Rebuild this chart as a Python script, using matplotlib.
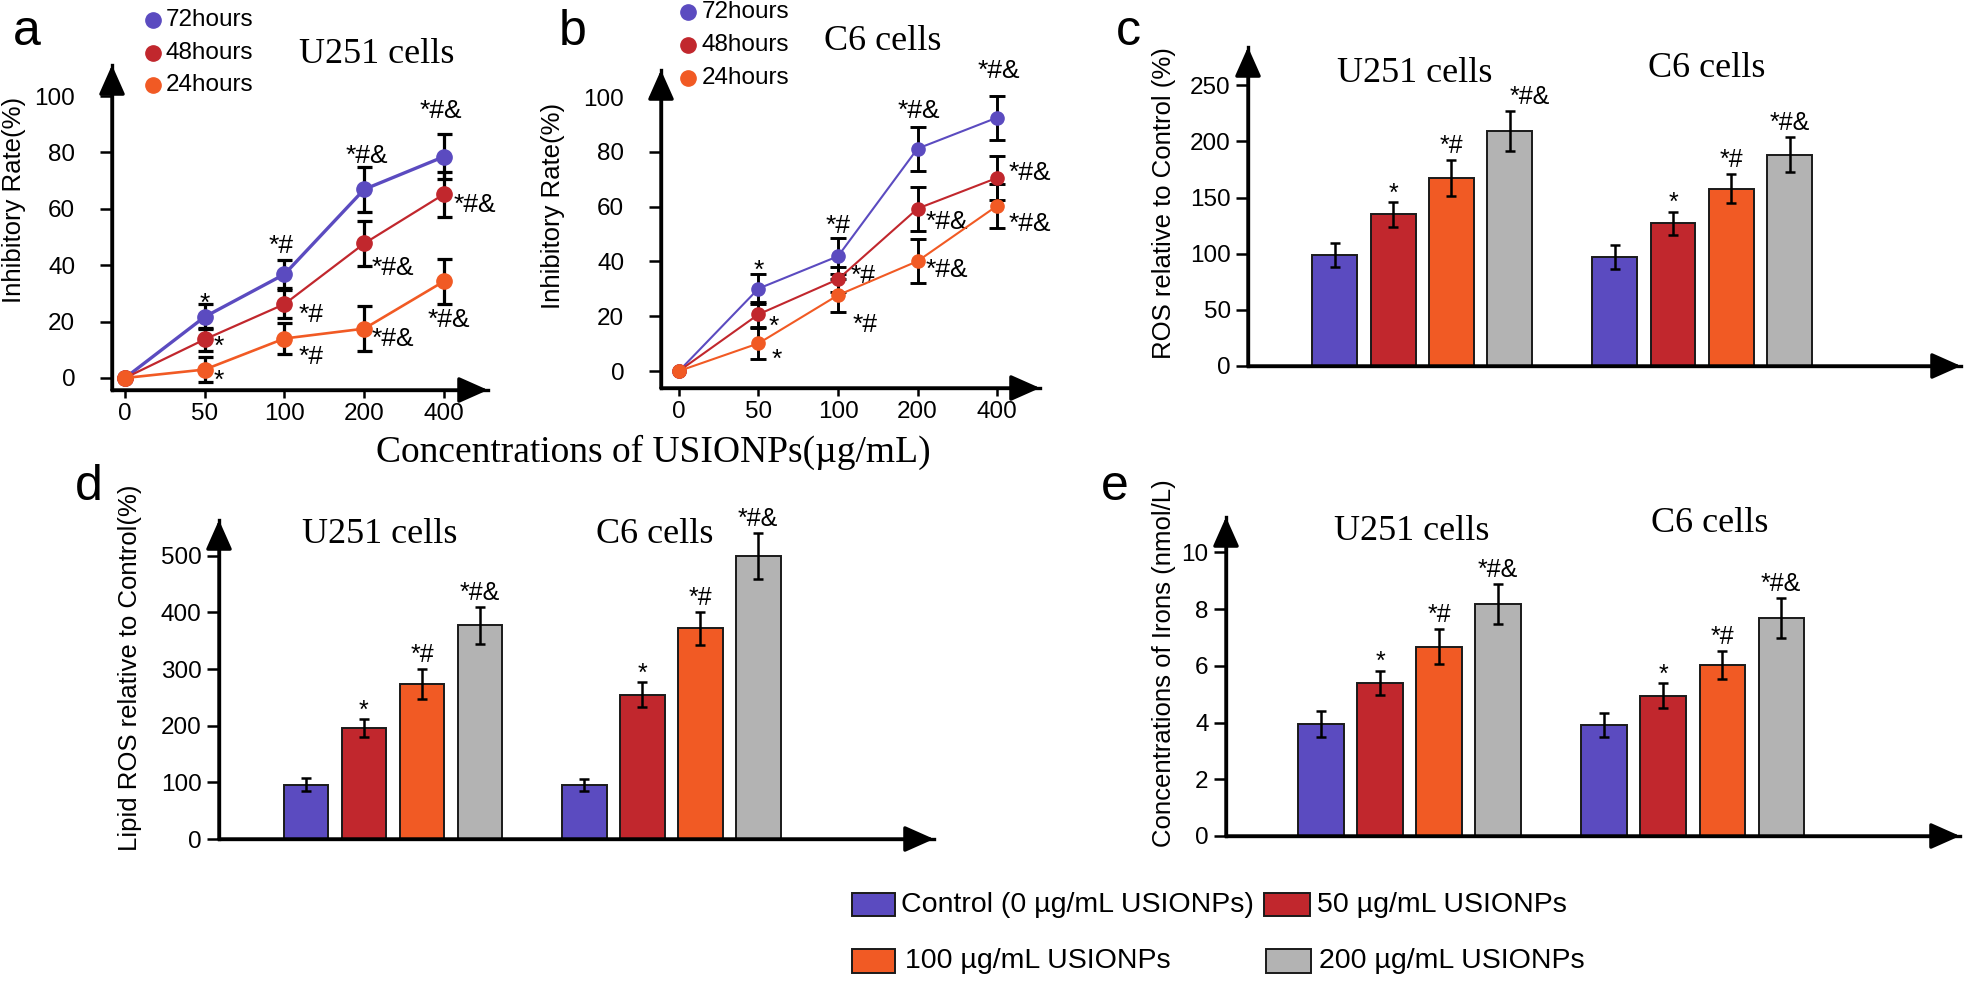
"""
Five-panel USIONPs figure: inhibitory-rate curves (a, b) and bar charts of
ROS (c), lipid ROS (d) and iron concentration (e) in U251 and C6 cells.
Layout is set in pixels so the saved png lines up with the 1966x982 original.
"""

import numpy as np
import matplotlib
matplotlib.use("Agg")
import matplotlib.pyplot as plt
from matplotlib.patches import Rectangle

W, H = 1966, 982
DPI = 100
PT = DPI / 72.0          # pixels per point

SANS = "Liberation Sans"
SERIF = "Liberation Serif"

PURPLE = "#5b4bc0"
RED = "#c1272d"
ORANGE = "#f15a24"
GRAY = "#b3b3b3"

# ---- panels a, b: inhibitory rate (%) vs concentration ----
CONC_LABELS = ["0", "50", "100", "200", "400"]
HOURS = ["72hours", "48hours", "24hours"]
HOUR_COLORS = [PURPLE, RED, ORANGE]

U251_72H = [0, 21.7, 36.8, 66.9, 78.5]
U251_72H_ERR = [0, 4.5, 5.0, 8.0, 8.0]
U251_48H = [0, 13.7, 26.2, 47.7, 65.2]
U251_48H_ERR = [0, 4.0, 5.0, 8.0, 8.0]
U251_24H = [0, 3.0, 14.0, 17.5, 34.3]
U251_24H_ERR = [0, 4.4, 5.6, 8.0, 8.0]

C6_72H = [0, 30.1, 41.9, 81.2, 92.5]
C6_72H_ERR = [0, 5.5, 6.5, 8.0, 8.0]
C6_48H = [0, 20.7, 33.5, 59.3, 70.5]
C6_48H_ERR = [0, 4.6, 4.5, 8.0, 8.0]
C6_24H = [0, 10.1, 27.7, 40.1, 60.3]
C6_24H_ERR = [0, 5.7, 6.0, 8.0, 8.0]

LINE_SIG = ["", "*", "*#", "*#&", "*#&"]

# ---- panels c, d, e: bars ----
DOSES = ["Control (0 \u00b5g/mL USIONPs)", "50 \u00b5g/mL USIONPs",
         "100 \u00b5g/mL USIONPs", "200 \u00b5g/mL USIONPs"]
DOSE_COLORS = [PURPLE, RED, ORANGE, GRAY]
BAR_SIG = ["", "*", "*#", "*#&"]

ROS_U251 = [99, 135, 167, 209]
ROS_U251_ERR = [10.5, 11, 16, 18]
ROS_C6 = [97, 127, 158, 188]
ROS_C6_ERR = [10.5, 10.5, 12.5, 15.5]

LIPID_U251 = [96, 196, 274, 377]
LIPID_U251_ERR = [11, 15.5, 26.5, 32]
LIPID_C6 = [95, 255, 372, 499]
LIPID_C6_ERR = [11, 21.5, 29, 41]

IRON_U251 = [3.95, 5.4, 6.68, 8.18]
IRON_U251_ERR = [0.45, 0.43, 0.61, 0.7]
IRON_C6 = [3.92, 4.95, 6.02, 7.7]
IRON_C6_ERR = [0.43, 0.43, 0.49, 0.7]

# visual-centre offsets (px, +y down) of the significance marks from each point
A_OFFS = [
    [None, (0, -21), (-3, -31), (3, -36), (-3, -48)],
    [None, (14, -1), (27, 8), (29, 22), (31, 8)],
    [None, (14, 3), (27, 16), (29, 8), (5, 36)],
]
B_OFFS = [
    [None, (0, -26), (0, -33), (1, -40), (2, -49)],
    [None, (15, 4), (25, -6), (29, 11), (33, -7)],
    [None, (18, 8), (27, 27), (29, 6), (33, 16)],
]

GROUP_GAP = 4.8
FS_TICK = 17.5
FS_SIG_LINE = 19
FS_SIG_BAR = 18

ARROW = dict(arrowstyle="-|>,head_length=0.9,head_width=0.4", lw=2.4,
             color="black", shrinkA=0, shrinkB=0, mutation_scale=20)


def px_axes(fig, left, top, right, bottom):
    ax = fig.add_axes([left / W, 1 - bottom / H, (right - left) / W, (bottom - top) / H])
    ax.set_facecolor("none")
    return ax


def style_axes(ax, ypad):
    for side in ("top", "right"):
        ax.spines[side].set_visible(False)
    for side in ("left", "bottom"):
        ax.spines[side].set_linewidth(2.4)
    ax.tick_params(axis="y", direction="out", length=8.5, width=1.8,
                   labelsize=FS_TICK, pad=ypad)
    for lab in ax.get_yticklabels():
        lab.set_family(SANS)
    for tip in [(1, 0), (0, 1)]:
        ax.annotate("", xy=tip, xytext=(0, 0), xycoords="axes fraction",
                    arrowprops=ARROW, annotation_clip=False)


def sig_baseline(label, fs):
    # shift from visual centre of the glyphs to their baseline, in px
    return (0.58 if label == "*" else 0.36) * fs * PT


def line_panel(ax, series, offsets, xlim, ylim, lws, ms, elw, cap):
    x = np.arange(len(CONC_LABELS))
    for (vals, errs), color, lw, offs in zip(series, HOUR_COLORS, lws, offsets):
        ax.errorbar(x[1:], vals[1:], yerr=errs[1:], fmt="none", ecolor="black",
                    elinewidth=elw, capsize=cap, capthick=elw, zorder=2)
        ax.plot(x, vals, "-o", color=color, lw=lw, ms=ms, zorder=3, clip_on=False)
        for i, lab in enumerate(LINE_SIG):
            if not lab:
                continue
            dx, dy = offs[i]
            dy += sig_baseline(lab, FS_SIG_LINE)
            ax.annotate(lab, (x[i], vals[i]), xytext=(dx, -dy), textcoords="offset pixels",
                        ha="center", va="baseline", fontsize=FS_SIG_LINE, family=SANS)
    ax.set_xlim(*xlim)
    ax.set_ylim(*ylim)
    ax.set_yticks(range(0, 101, 20))
    ax.set_xticks(x)
    ax.set_xticklabels(CONC_LABELS, family=SANS)
    style_axes(ax, ypad=18)
    ax.tick_params(axis="x", direction="out", length=6, width=1.8,
                   labelsize=FS_TICK, pad=3)


def bar_panel(ax, groups, xlim, ylim, yticks, sig_dx=None):
    sig_dx = sig_dx or {}
    base = np.arange(len(DOSES))
    for g, (vals, errs) in enumerate(groups):
        pos = base + g * GROUP_GAP
        ax.bar(pos, vals, width=0.77, color=DOSE_COLORS, edgecolor="#1a1a1a",
               linewidth=1.4, zorder=2)
        ax.errorbar(pos, vals, yerr=errs, fmt="none", ecolor="black",
                    elinewidth=1.8, capsize=3.3, capthick=1.8, zorder=3)
        for k, (p, v, e, lab) in enumerate(zip(pos, vals, errs, BAR_SIG)):
            if not lab:
                continue
            up = 16 - sig_baseline(lab, FS_SIG_BAR)
            ax.annotate(lab, (p, v + e), xytext=(sig_dx.get((g, k), 0), up),
                        textcoords="offset pixels", ha="center", va="baseline",
                        fontsize=FS_SIG_BAR, family=SANS)
    ax.set_xlim(*xlim)
    ax.set_ylim(*ylim)
    ax.set_yticks(yticks)
    ax.set_xticks([])
    style_axes(ax, ypad=4)


def main():
    fig = plt.figure(figsize=(W / DPI, H / DPI), dpi=DPI)

    ax_a = px_axes(fig, 112, 65, 488, 390)
    line_panel(ax_a,
               [(U251_72H, U251_72H_ERR), (U251_48H, U251_48H_ERR), (U251_24H, U251_24H_ERR)],
               A_OFFS, (-0.163, 4.552), (-4.26, 111.0),
               lws=[2.4, 1.6, 1.9], ms=11, elw=2.3, cap=5.4)

    ax_b = px_axes(fig, 661, 70, 1040, 388)
    line_panel(ax_b,
               [(C6_72H, C6_72H_ERR), (C6_48H, C6_48H_ERR), (C6_24H, C6_24H_ERR)],
               B_OFFS, (-0.226, 4.54), (-6.2, 109.9),
               lws=[1.5, 1.5, 1.5], ms=9.5, elw=2.1, cap=6)

    ax_c = px_axes(fig, 1248, 47, 1961, 366)
    bar_panel(ax_c, [(ROS_U251, ROS_U251_ERR), (ROS_C6, ROS_C6_ERR)],
              (-1.49, 10.74), (0, 284), range(0, 251, 50), sig_dx={(0, 3): 20})

    ax_d = px_axes(fig, 219, 520, 934, 839)
    bar_panel(ax_d, [(LIPID_U251, LIPID_U251_ERR), (LIPID_C6, LIPID_C6_ERR)],
              (-1.5, 10.83), (0, 563), range(0, 501, 100))

    ax_e = px_axes(fig, 1226, 517, 1960, 836)
    bar_panel(ax_e, [(IRON_U251, IRON_U251_ERR), (IRON_C6, IRON_C6_ERR)],
              (-1.61, 10.83), (0, 11.25), range(0, 11, 2))

    # overlay in image pixels for free text, legends and labels
    ov = fig.add_axes([0, 0, 1, 1])
    ov.set_xlim(0, W)
    ov.set_ylim(H, 0)
    ov.axis("off")
    ov.patch.set_alpha(0)

    for letter, x, y in [("a", 27, 45), ("b", 573, 45), ("c", 1128, 45),
                         ("d", 89, 500), ("e", 1115, 500)]:
        ov.text(x, y, letter, fontsize=36, family=SANS, ha="center", va="baseline")

    for title, x, y in [("U251 cells", 377, 63), ("C6 cells", 883, 50),
                        ("U251 cells", 1415, 82), ("C6 cells", 1707, 77),
                        ("U251 cells", 380, 543), ("C6 cells", 655, 543),
                        ("U251 cells", 1412, 540), ("C6 cells", 1710, 532)]:
        ov.text(x, y, title, fontsize=26, family=SERIF, ha="center", va="baseline")

    ov.text(653, 462, "Concentrations of USIONPs(\u00b5g/mL)", fontsize=27,
            family=SERIF, ha="center", va="baseline")

    for label, x, y in [("Inhibitory Rate(%)", 14, 200),
                        ("Inhibitory Rate(%)", 553, 206),
                        ("ROS relative to Control (%)", 1164, 203),
                        ("Lipid ROS relative to Control(%)", 130, 668),
                        ("Concentrations of Irons (nmol/L)", 1164, 663)]:
        ov.text(x, y, label, fontsize=18.5, family=SANS, rotation=90,
                ha="center", va="center")

    # time-point legends of panels a and b
    for cx, tx, rows in [(153, 166, [20, 53, 85]), (688, 702, [12, 45, 78])]:
        for name, color, y in zip(HOURS, HOUR_COLORS, rows):
            ov.plot(cx, y, "o", ms=11, color=color)
            ov.text(tx, y, name, fontsize=17.5, family=SANS, ha="left", va="center")

    # dose legend under panel e
    legend_slots = [(852, 893, 43, 23, 901, 905), (1264, 893, 46, 23, 1317, 905),
                    (852, 949, 43, 24, 905, 961), (1266, 949, 45, 24, 1319, 961)]
    for name, color, (px, py, pw, ph, tx, ty) in zip(DOSES, DOSE_COLORS, legend_slots):
        ov.add_patch(Rectangle((px, py), pw, ph, facecolor=color,
                               edgecolor="#1a1a1a", linewidth=1.4))
        ov.text(tx, ty, name, fontsize=20.5, family=SANS, ha="left", va="center")

    fig.savefig("out.png", dpi=DPI)
    plt.close(fig)


if __name__ == "__main__":
    main()
